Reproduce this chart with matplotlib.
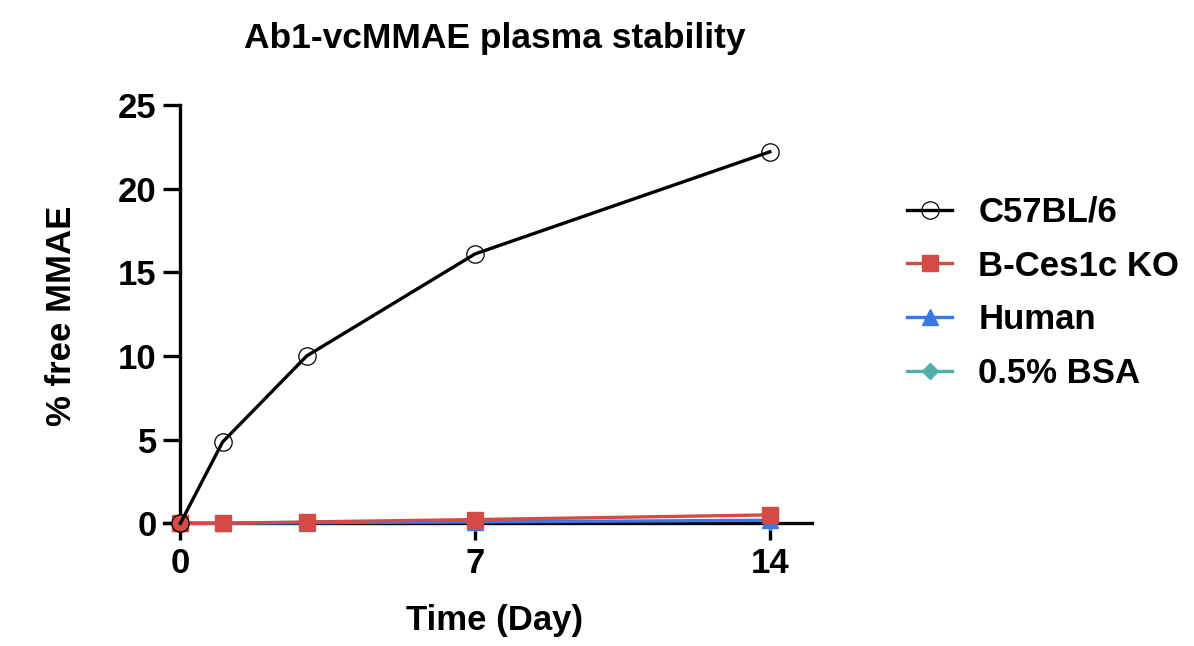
import matplotlib.pyplot as plt

plt.rcParams['font.family'] = ['Liberation Sans', 'DejaVu Sans']
plt.rcParams['font.weight'] = 'bold'

# Dados
dias = [0, 1, 3, 7, 14]
c57bl6 = [0, 4.85, 10.0, 16.1, 22.2]
ces1c_ko = [0, 0.0, 0.08, 0.22, 0.5]
humano = [0, 0.0, 0.03, 0.08, 0.18]
bsa = [0, 0.0, 0.01, 0.04, 0.09]

series = ['C57BL/6', 'B-Ces1c KO', 'Human', '0.5% BSA']
cores = ['black', '#d44b46', '#3a78e8', '#50b0a8']
marcadores = ['o', 's', '^', 'D']
tamanhos = [12.5, 11, 11, 8]

fig = plt.figure(figsize=(11.94, 6.46), dpi=100)
ax = fig.add_axes([0.137, 0.19, 0.543, 0.6475])

valores = [c57bl6, ces1c_ko, humano, bsa]
linhas = []
for nome, y, cor, mk, ms, z in zip(series, valores, cores, marcadores, tamanhos, [5, 4, 3, 2]):
    if mk == 'o':
        l, = ax.plot(dias, y, color=cor, lw=2.4, marker=mk, ms=ms,
                     mfc='none', mec='black', mew=0.9, label=nome,
                     clip_on=False, zorder=z)
    else:
        l, = ax.plot(dias, y, color=cor, lw=2.4, marker=mk, ms=ms,
                     mfc=cor, mec=cor, label=nome, clip_on=False, zorder=z)
    linhas.append(l)

ax.set_xlim(-0.4, 15)
ax.set_ylim(0, 25)
ax.set_xticks([0, 7, 14])
ax.set_yticks([0, 5, 10, 15, 20, 25])

ax.spines['top'].set_visible(False)
ax.spines['right'].set_visible(False)
ax.spines['left'].set_position(('data', 0))
ax.spines['left'].set_linewidth(2.4)
ax.spines['bottom'].set_linewidth(2.4)
ax.tick_params(axis='both', width=2.4, length=12, labelsize=25, pad=5)
for t in ax.get_xticklabels() + ax.get_yticklabels():
    t.set_fontweight('bold')

fig.text(0.4146, 0.941, 'Ab1-vcMMAE plasma stability', fontsize=25.5,
         fontweight='bold', ha='center', va='center')
ax.set_xlabel('Time (Day)', fontsize=25, fontweight='bold')
ax.set_ylabel('% free MMAE', fontsize=25, fontweight='bold')
ax.xaxis.set_label_coords((495 - 164) / 648, -(620 - 523) / 418)
ax.yaxis.set_label_coords(-(164 - 62) / 648, (523 - 316) / 418)
ax.xaxis.label.set_va('center')
ax.yaxis.label.set_va('center')

leg = ax.legend(handles=linhas, loc='upper left', bbox_to_anchor=(0.7596, 0.697),
                bbox_transform=fig.transFigure, frameon=False, fontsize=25,
                handlelength=1.3, labelspacing=0.6, handletextpad=0.75,
                borderpad=0, borderaxespad=0)
for t in leg.get_texts():
    t.set_fontweight('bold')

plt.savefig('out.png', dpi=100)
